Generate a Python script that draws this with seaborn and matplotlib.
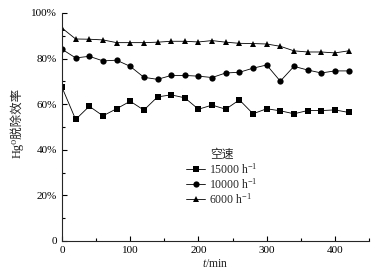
import pandas as pd
import seaborn as sns
import matplotlib.pyplot as plt
from matplotlib.ticker import MultipleLocator, FuncFormatter

# time points (min)
t = [0, 20, 40, 60, 80, 100, 120, 140, 160, 180, 200, 220, 240, 260, 280, 300, 320, 340, 360, 380, 400, 420]

# Hg0 removal efficiency (%) at each space velocity
eff_15000 = [67.4, 53.3, 59.1, 54.9, 58.0, 61.3, 57.4, 63.2, 64.1, 62.8, 57.8, 59.6, 57.8, 61.9, 55.8, 58.0, 57.1, 55.8, 57.2, 57.2, 57.5, 56.4]
eff_10000 = [84.1, 80.3, 81.0, 79.0, 79.3, 76.6, 71.8, 70.9, 72.6, 72.6, 72.3, 71.7, 73.7, 74.0, 75.8, 77.2, 70.1, 76.6, 75.0, 73.7, 74.6, 74.6]
eff_6000 = [93.4, 88.6, 88.5, 88.2, 87.0, 87.0, 87.0, 87.2, 87.6, 87.6, 87.3, 87.9, 87.2, 86.7, 86.6, 86.4, 85.4, 83.4, 82.9, 82.9, 82.5, 83.4]

labels = ['15000 h$^{-1}$', '10000 h$^{-1}$', '6000 h$^{-1}$']

df = pd.concat([
    pd.DataFrame({'t': t, 'eff': eff_15000, 'sv': labels[0]}),
    pd.DataFrame({'t': t, 'eff': eff_10000, 'sv': labels[1]}),
    pd.DataFrame({'t': t, 'eff': eff_6000, 'sv': labels[2]}),
])

sns.set_style('ticks')
plt.rcParams['font.family'] = ['Liberation Serif', 'Noto Sans CJK SC', 'DejaVu Serif']
plt.rcParams['mathtext.fontset'] = 'custom'
plt.rcParams['mathtext.rm'] = 'Liberation Serif'
plt.rcParams['mathtext.it'] = 'Liberation Serif:italic'

fig = plt.figure(figsize=(3.83, 2.79), dpi=100)
ax = fig.add_axes([62 / 383, 1 - 241 / 279, 307 / 383, 228 / 279])

sns.lineplot(data=df, x='t', y='eff', hue='sv', style='sv',
             palette=['black'] * 3, markers=['s', 'o', '^'], dashes=False,
             markersize=4.5, linewidth=0.6, markeredgewidth=0, ax=ax)

ax.set_xlim(0, 450)
ax.set_ylim(0, 100)
ax.xaxis.set_major_locator(MultipleLocator(100))
ax.xaxis.set_minor_locator(MultipleLocator(50))
ax.yaxis.set_major_locator(MultipleLocator(20))
ax.yaxis.set_minor_locator(MultipleLocator(10))
ax.yaxis.set_major_formatter(FuncFormatter(lambda v, p: '0' if v == 0 else f'{v:.0f}%'))
ax.tick_params(which='both', direction='in', labelsize=8, width=0.8, colors='black')
ax.tick_params(which='major', length=3.5)
ax.tick_params(which='minor', length=2.5)
sns.despine(ax=ax)
for s in ['left', 'bottom']:
    ax.spines[s].set_linewidth(0.8)

ax.set_xlabel('$t$/min', fontsize=8.5, labelpad=2)
ax.set_ylabel('Hg\u2070脱除效率', fontsize=9, labelpad=0)
ax.yaxis.set_label_coords(-0.125, 0.52)

leg = ax.legend(title='空速', loc='upper left', bbox_to_anchor=(0.37, 0.45),
                frameon=False, fontsize=8.5, title_fontsize=8.5,
                handlelength=1.6, handletextpad=0.3, labelspacing=0.05)

fig.savefig('out.png', dpi=100)
